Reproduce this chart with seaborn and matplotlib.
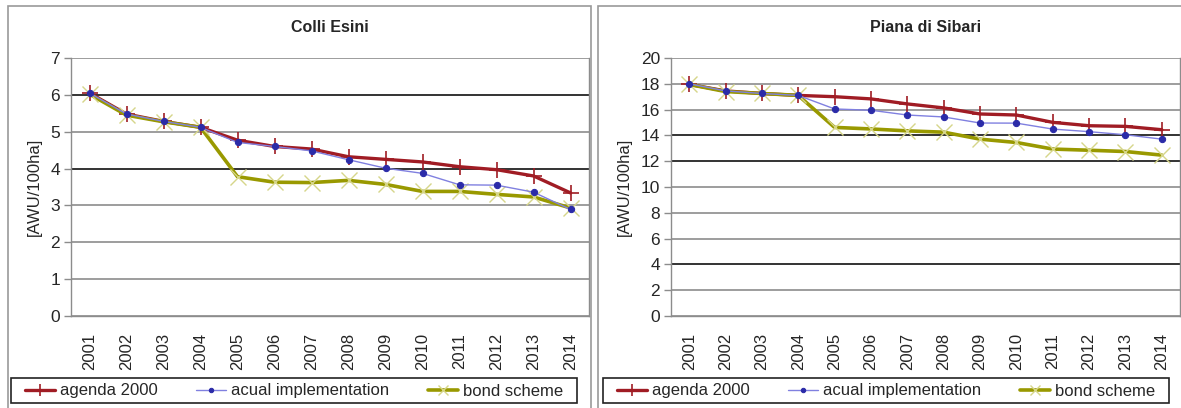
import numpy as np
import pandas as pd
import matplotlib
matplotlib.use('Agg')
import matplotlib.pyplot as plt
from matplotlib.patches import Rectangle
import seaborn as sns

# --- data ---
years = [str(y) for y in range(2001, 2015)]

colli_agenda = [6.05, 5.48, 5.28, 5.12, 4.77, 4.60, 4.53, 4.32, 4.25, 4.18, 4.05, 3.97, 3.80, 3.34]
colli_actual = [6.05, 5.48, 5.28, 5.12, 4.71, 4.60, 4.48, 4.24, 4.01, 3.87, 3.56, 3.55, 3.36, 2.89]
colli_bond = [6.02, 5.45, 5.27, 5.12, 3.78, 3.63, 3.62, 3.68, 3.57, 3.38, 3.38, 3.30, 3.23, 2.93]

sibari_agenda = [17.95, 17.45, 17.25, 17.10, 17.00, 16.83, 16.44, 16.13, 15.66, 15.58, 15.01, 14.75, 14.70, 14.44]
sibari_actual = [18.00, 17.45, 17.25, 17.10, 16.05, 15.95, 15.58, 15.43, 14.96, 14.95, 14.49, 14.29, 14.05, 13.71]
sibari_bond = [17.95, 17.40, 17.25, 17.10, 14.62, 14.50, 14.35, 14.25, 13.71, 13.45, 12.94, 12.85, 12.75, 12.47]

series_names = ['agenda 2000', 'acual implementation', 'bond scheme']

sns.set_style('white')
plt.rcParams['font.family'] = ['Liberation Sans', 'DejaVu Sans']

W, H = 1181, 408
fig = plt.figure(figsize=(W / 100, H / 100), dpi=100)

GRID = '#8c8c8c'
styles = {
    'agenda 2000': dict(color='#a01c24', lw=2.4, marker='+', ms=12, mew=1.2,
                        mec='#a01c24', zorder=3),
    'acual implementation': dict(color='#8080e0', lw=1.0, marker='o', ms=4.5,
                                 mfc='#2b2ba8', mec='#2b2ba8', zorder=5),
    'bond scheme': dict(color='#999900', lw=2.6, marker='x', ms=11, mew=1.0,
                        mec='#d6d68a', zorder=4),
}


def draw_panel(ax, title, values, ymax, ystep, dark_levels):
    df = pd.DataFrame({'year': years})
    for name, vals in zip(series_names, values):
        df[name] = vals
    long = df.melt(id_vars='year', var_name='series', value_name='awu')
    for name in series_names:
        sub = long[long['series'] == name]
        sns.lineplot(data=sub, x='year', y='awu', ax=ax, label=name,
                     sort=False, **styles[name])

    ax.set_xlim(-0.5, len(years) - 0.5)
    ax.set_ylim(0, ymax)
    ax.set_yticks(np.arange(0, ymax + 0.1, ystep))
    ax.set_xticks(range(len(years)))
    ax.set_xticklabels(years, rotation=90)
    ax.set_xticks(np.arange(-0.5, len(years)), minor=True)
    ax.tick_params(axis='x', which='major', length=0, labelsize=12, pad=12)
    ax.tick_params(axis='x', which='minor', length=5, color=GRID, width=1)
    ax.tick_params(axis='y', length=5, color=GRID, width=1, labelsize=12.5,
                   left=True, pad=3)
    ax.set_xlabel('')
    ax.set_ylabel('[AWU/100ha]', fontsize=12, labelpad=6)
    ax.set_title(title, fontsize=11.5, fontweight='bold', pad=19)

    ax.grid(axis='y', color=GRID, lw=1.2)
    ax.set_axisbelow(True)
    for level, line in zip(ax.get_yticks(), ax.get_ygridlines()):
        if level in dark_levels:
            line.set_color('#111111')
    for side in ['left', 'bottom', 'right', 'top']:
        ax.spines[side].set_color(GRID)
        ax.spines[side].set_linewidth(1)
    ax.spines['top'].set_visible(False)

    handles, labels = ax.get_legend_handles_labels()
    ax.get_legend().remove()
    return handles, labels


ax1 = fig.add_axes([71 / W, 92 / H, 518 / W, 258 / H])
ax2 = fig.add_axes([671 / W, 92 / H, 509 / W, 258 / H])

h1, l1 = draw_panel(ax1, 'Colli Esini', [colli_agenda, colli_actual, colli_bond],
                    7, 1, [6, 4])
h2, l2 = draw_panel(ax2, 'Piana di Sibari', [sibari_agenda, sibari_actual, sibari_bond],
                    20, 2, [14, 12, 4])

# legend boxes under each panel (frame drawn separately)
for handles, labels, x0, x1 in [(h1, l1, 11, 577), (h2, l2, 603, 1169)]:
    fig.legend(handles, labels, loc='center', ncol=3,
               bbox_to_anchor=((x0 + x1) / 2 / W, (H - 391) / H),
               frameon=False, fontsize=12, handlelength=1.8,
               handletextpad=0.3, columnspacing=2.3, borderpad=0,
               markerscale=0.7)
    fig.patches.append(Rectangle((x0 / W, (H - 403) / H), (x1 - x0) / W, 25 / H,
                                 transform=fig.transFigure, fill=False,
                                 edgecolor='#222222', lw=1.2))

# panel borders
for x0, x1 in [(8, 591), (598, 1190)]:
    fig.patches.append(Rectangle((x0 / W, -0.02), (x1 - x0) / W, 1.0 - 6 / H + 0.02,
                                 transform=fig.transFigure, fill=False,
                                 edgecolor='#9a9a9a', lw=1.2))

fig.savefig('out.png', dpi=100)
plt.close(fig)
